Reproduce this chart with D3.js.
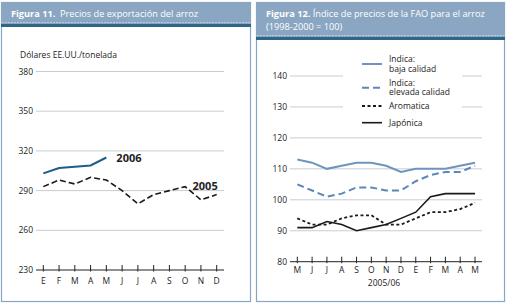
<!DOCTYPE html>
<html><head><meta charset="utf-8">
<script src="https://cdn.jsdelivr.net/npm/d3@7"></script>
<style>
body{margin:0;background:#fff;}
text{font-family:"Open Sans",sans-serif;}
</style></head>
<body><svg id="c" width="507" height="308"></svg>
<script>
// ---- Figure 11 data ----
const months11 = ["E","F","M","A","M","J","J","A","S","O","N","D"];
const yTicks11 = [230,260,290,320,350,380];
const series2006 = [303,307,308,309,315];
const series2005 = [293,298,295,300,298,290,280,287,290,293,283,287];
// ---- Figure 12 data ----
const months12 = ["M","J","J","A","S","O","N","D","E","F","M","A","M"];
const yTicks12 = [80,90,100,110,120,130,140];
const indicaBaja = [113,112,110,111,112,112,111,109,110,110,110,111,112];
const indicaElevada = [105,103,101,102,104,104,103,103,106,108,109,109,111];
const aromatica = [94,92,92,94,95,95,92,92,94,96,96,97,99];
const japonica = [91,91,93,92,90,91,92,94,96,101,102,102,102];

const svg = d3.select("#c");
const headFill = "#8aa6c2", stripe = "#2f6586", border = "#86a6c6";

function panel(x0, x1, hh, lines){
  svg.append("rect").attr("x",x0+0.5).attr("y",2.5).attr("width",x1-x0-1).attr("height",299).attr("fill","#fff").attr("stroke",border).attr("stroke-width",1.2);
  svg.append("rect").attr("x",x0).attr("y",2).attr("width",x1-x0).attr("height",hh).attr("fill",headFill);
  svg.append("line").attr("x1",x0+1).attr("x2",x1-1).attr("y1",hh-0.5).attr("y2",hh-0.5).attr("stroke","#b8cadb").attr("stroke-dasharray","2,1");
  svg.append("rect").attr("x",x0).attr("y",hh+1).attr("width",x1-x0).attr("height",3).attr("fill",stripe);
  lines.forEach((ln,i)=>{
    const t = svg.append("text").attr("x",x0+10).attr("y",17+i*13).attr("fill","#fff").attr("font-size",9.2);
    ln.forEach(seg=>t.append("tspan").attr("font-weight",seg.b?"bold":"normal").text(seg.t));
  });
}
panel(1,251,23,[[{t:"Figura 11.",b:true},{t:"\u00a0\u00a0Precios de exportación del arroz"}]]);
panel(256,505,36,[[{t:"Figura 12. ",b:true},{t:"Índice de precios de la FAO para el arroz"}],[{t:"(1998-2000 = 100)"}]]);

// ---- Chart 1 ----
{
  const x = d3.scalePoint().domain(d3.range(12)).range([43.3,216.7]);
  const y = d3.scaleLinear().domain([230,380]).range([270,71.5]);
  const g = svg.append("g");
  g.append("text").attr("x",20).attr("y",58).attr("font-size",8.5).attr("fill","#222").text("Dólares EE.UU./tonelada");
  yTicks11.forEach(v=>{
    if(v>230) g.append("line").attr("x1",36).attr("x2",224).attr("y1",y(v)).attr("y2",y(v)).attr("stroke","#c8ccd2").attr("stroke-width",1);
    g.append("text").attr("x",33).attr("y",y(v)+3).attr("text-anchor","end").attr("font-size",8.5).attr("fill","#222").text(v);
  });
  g.append("line").attr("x1",36).attr("x2",224).attr("y1",y(230)).attr("y2",y(230)).attr("stroke","#222").attr("stroke-width",1);
  months11.forEach((m,i)=>{
    g.append("line").attr("x1",x(i)).attr("x2",x(i)).attr("y1",y(230)-5).attr("y2",y(230)+1.5).attr("stroke","#222").attr("stroke-width",1);
    g.append("text").attr("x",x(i)).attr("y",284).attr("text-anchor","middle").attr("font-size",8.5).attr("fill","#222").text(m);
  });
  const line = d3.line().x((d,i)=>x(i)).y(d=>y(d));
  g.append("path").attr("d",line(series2005)).attr("fill","none").attr("stroke","#1a1a1a").attr("stroke-width",1.6).attr("stroke-dasharray","6,3");
  g.append("path").attr("d",line(series2006)).attr("fill","none").attr("stroke","#1f5d87").attr("stroke-width",2);
  g.append("text").attr("x",x(4)+10).attr("y",y(series2006[4])+4).attr("font-size",11).attr("font-weight","bold").attr("fill","#222").text("2006");
  g.append("text").attr("x",x(11)+1).attr("y",y(series2005[11])-5).attr("text-anchor","end").attr("font-size",11).attr("font-weight","bold").attr("fill","#222").text("2005");
}

// ---- Chart 2 ----
{
  const x = d3.scalePoint().domain(d3.range(13)).range([297.3,475]);
  const y = d3.scaleLinear().domain([80,140]).range([261.7,76]);
  const g = svg.append("g");
  yTicks12.forEach(v=>{
    if(v>80) g.append("line").attr("x1",290).attr("x2",482).attr("y1",y(v)).attr("y2",y(v)).attr("stroke","#c8ccd2").attr("stroke-width",1);
    g.append("text").attr("x",287).attr("y",y(v)+3).attr("text-anchor","end").attr("font-size",8.5).attr("fill","#222").text(v);
  });
  // legend background
  g.append("rect").attr("x",343).attr("y",50).attr("width",119).attr("height",78).attr("fill","#fff");
  g.append("line").attr("x1",290).attr("x2",482).attr("y1",y(80)).attr("y2",y(80)).attr("stroke","#222");
  months12.forEach((m,i)=>{
    g.append("line").attr("x1",x(i)).attr("x2",x(i)).attr("y1",y(80)-5).attr("y2",y(80)+1.5).attr("stroke","#222");
    g.append("text").attr("x",x(i)).attr("y",273).attr("text-anchor","middle").attr("font-size",8.5).attr("fill","#222").text(m);
  });
  g.append("text").attr("x",384).attr("y",286).attr("text-anchor","middle").attr("font-size",8.5).attr("fill","#222").text("2005/06");
  const line = d3.line().x((d,i)=>x(i)).y(d=>y(d));
  const series = [
    {name:["Indica:","baja calidad"], data:indicaBaja, color:"#6f95bd", dash:null, w:2},
    {name:["Indica:","elevada calidad"], data:indicaElevada, color:"#5b88b8", dash:"7,4", w:2},
    {name:["Aromatica"], data:aromatica, color:"#1a1a1a", dash:"3,2.5", w:1.8},
    {name:["Japónica"], data:japonica, color:"#1a1a1a", dash:null, w:1.6}
  ];
  series.forEach(s=>{
    g.append("path").attr("d",line(s.data)).attr("fill","none").attr("stroke",s.color).attr("stroke-width",s.w).attr("stroke-dasharray",s.dash);
  });
  const ly = [64,87.7,106,122.7];
  series.forEach((s,i)=>{
    g.append("line").attr("x1",362).attr("x2",382).attr("y1",ly[i]).attr("y2",ly[i]).attr("stroke",s.color).attr("stroke-width",s.w).attr("stroke-dasharray",s.dash);
    if(s.name.length===2){
      g.append("text").attr("x",389).attr("y",ly[i]-2).attr("font-size",8.5).attr("fill","#222").text(s.name[0]);
      g.append("text").attr("x",389).attr("y",ly[i]+7.5).attr("font-size",8.5).attr("fill","#222").text(s.name[1]);
    } else {
      g.append("text").attr("x",389).attr("y",ly[i]+3).attr("font-size",8.5).attr("fill","#222").text(s.name[0]);
    }
  });
}
</script></body></html>
